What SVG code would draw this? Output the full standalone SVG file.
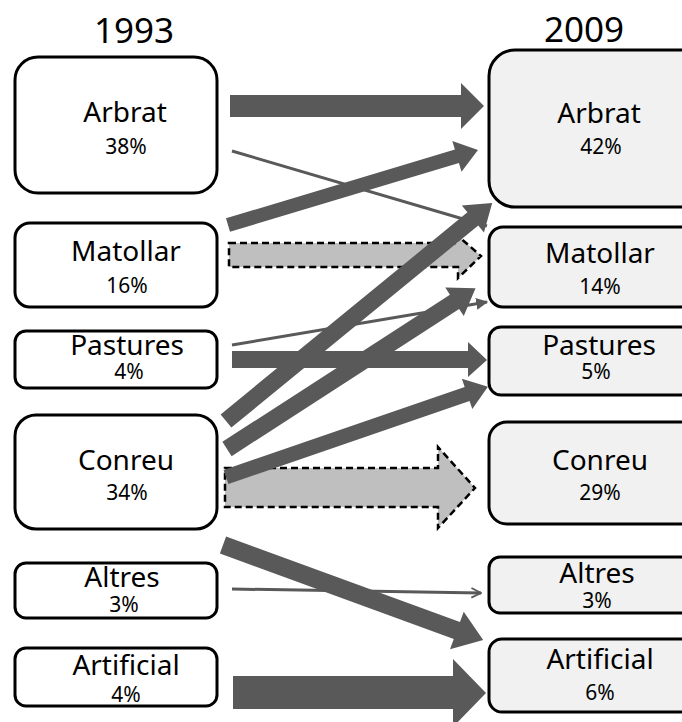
<svg xmlns="http://www.w3.org/2000/svg" width="682" height="722" viewBox="0 0 682 722">
<style>
.bl{fill:#fff;stroke:#000;stroke-width:3}
.br{fill:#f1f1f1;stroke:#000;stroke-width:3}
text{font-family:"Noto Sans","Open Sans","DejaVu Sans",sans-serif;fill:#000;text-anchor:middle}
.t{font-size:35px}
.n{font-size:28px}
.p{font-size:21px}
.a{fill:#595959}
.d{fill:#bfbfbf;stroke:#000;stroke-width:2.5;stroke-dasharray:7 4}
.l{stroke:#595959;stroke-width:3;fill:none}
</style>
<defs>
<marker id="h" viewBox="0 0 10 10" refX="9" refY="5" markerWidth="4" markerHeight="4" orient="auto" markerUnits="strokeWidth">
<path d="M0,0 L10,5 L0,10 Z" fill="#595959"/>
</marker>
<marker id="o" viewBox="0 0 10 10" refX="9" refY="5" markerWidth="4" markerHeight="4" orient="auto" markerUnits="strokeWidth">
<path d="M1,1 L9,5 L1,9" fill="none" stroke="#595959" stroke-width="1.5"/>
</marker>
</defs>
<text class="t" x="134" y="43">1993</text>
<text class="t" x="584" y="42">2009</text>
<g id="l-arbrat"><rect class="bl" x="15" y="57" width="202" height="136" rx="23"/><text class="n" x="125" y="122">Arbrat</text><text class="p" x="126" y="154">38%</text></g>
<g id="l-matollar"><rect class="bl" x="15" y="223" width="202" height="84" rx="15"/><text class="n" x="126" y="261">Matollar</text><text class="p" x="127" y="293">16%</text></g>
<g id="l-pastures"><rect class="bl" x="15" y="331" width="202" height="57" rx="11"/><text class="n" x="127" y="355">Pastures</text><text class="p" x="129" y="379">4%</text></g>
<g id="l-conreu"><rect class="bl" x="15" y="415" width="202" height="114" rx="21"/><text class="n" x="126" y="470">Conreu</text><text class="p" x="127" y="500">34%</text></g>
<g id="l-altres"><rect class="bl" x="15" y="563" width="202" height="55" rx="11"/><text class="n" x="122" y="587">Altres</text><text class="p" x="124" y="612">3%</text></g>
<g id="l-artificial"><rect class="bl" x="15" y="648" width="202" height="58" rx="11"/><text class="n" x="126" y="675">Artificial</text><text class="p" x="126" y="702">4%</text></g>
<g id="r-arbrat"><rect class="br" x="489" y="50" width="222" height="157" rx="26"/><text class="n" x="599" y="123">Arbrat</text><text class="p" x="601" y="154">42%</text></g>
<g id="r-matollar"><rect class="br" x="489" y="227" width="222" height="80" rx="14"/><text class="n" x="600" y="263">Matollar</text><text class="p" x="600" y="294">14%</text></g>
<g id="r-pastures"><rect class="br" x="489" y="327" width="222" height="68" rx="12"/><text class="n" x="599" y="355">Pastures</text><text class="p" x="596" y="379">5%</text></g>
<g id="r-conreu"><rect class="br" x="489" y="422" width="222" height="102" rx="18"/><text class="n" x="600" y="470">Conreu</text><text class="p" x="600" y="500">29%</text></g>
<g id="r-altres"><rect class="br" x="489" y="557" width="222" height="56" rx="11"/><text class="n" x="597" y="583">Altres</text><text class="p" x="597" y="608">3%</text></g>
<g id="r-artificial"><rect class="br" x="489" y="639" width="222" height="73" rx="13"/><text class="n" x="600" y="669">Artificial</text><text class="p" x="600" y="700">6%</text></g>
<g id="connectors">
<polygon class="d" points="229,243 458,243 458,236 481,256 458,278 458,267 229,267"/>
<polygon class="d" points="225,468 438,468 438,447 475,488 438,528 438,507 225,507"/>
<polygon class="a" points="230,95 461,95 461,83 484,106 461,129 461,117 230,117"/>
<line class="l" x1="232" y1="151" x2="487" y2="226"/>
<polygon class="a" transform="translate(228,225) rotate(-16.7)" points="0,-7 239,-7 239,-16 261,0 239,16 239,7 0,7"/>
<line class="l" x1="232" y1="345" x2="487" y2="302" marker-end="url(#h)"/>
<polygon class="a" points="232,351 468,351 468,342 487,360 468,377 468,368 232,368"/>
<polygon class="a" transform="translate(226,421) rotate(-39.3)" points="0,-8.5 319,-8.5 319,-17.5 344,0 319,17.5 319,8.5 0,8.5"/>
<polygon class="a" transform="translate(227,449) rotate(-32.9)" points="0,-8.5 271,-8.5 271,-17 296,0 271,17 271,8.5 0,8.5"/>
<polygon class="a" transform="translate(226,477) rotate(-19)" points="0,-7.5 255,-7.5 255,-16 277,0 255,16 255,7.5 0,7.5"/>
<line class="l" x1="232" y1="589" x2="481" y2="593" marker-end="url(#o)"/>
<polygon class="a" transform="translate(223,545) rotate(20.07)" points="0,-9 249,-9 249,-20 277,0 249,20 249,9 0,9"/>
<polygon class="a" points="233,676 453,676 453,659 486,693 453,727 453,709 233,709"/>
</g>
</svg>
